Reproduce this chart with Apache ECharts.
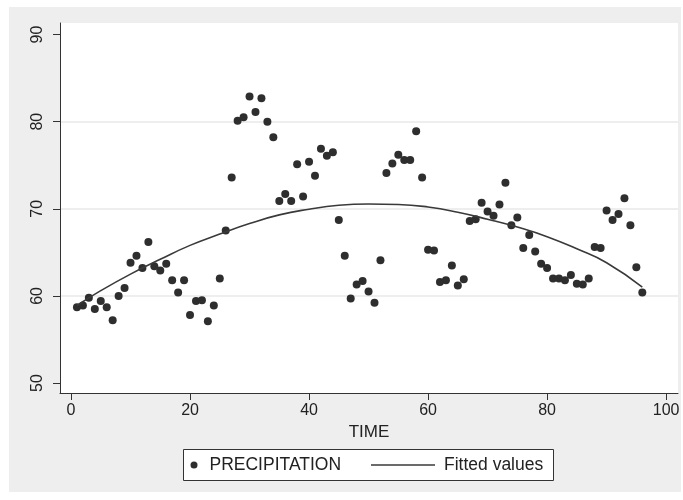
<!DOCTYPE html>
<html>
<head>
<meta charset="utf-8">
<script src="https://cdn.jsdelivr.net/npm/echarts@6/dist/echarts.min.js"></script>
<style>
html,body{margin:0;padding:0;background:#fff;}
#chart{width:683px;height:500px;}
</style>
</head>
<body>
<div id="chart"></div>
<script>
// Data
var time = [1,2,3,4,5,6,7,8,9,10,11,12,13,14,15,16,17,18,19,20,21,22,23,24,25,26,27,28,29,30,31,32,33,34,35,36,37,38,39,40,41,42,43,44,45,46,47,48,49,50,51,52,53,54,55,56,57,58,59,60,61,62,63,64,65,66,67,68,69,70,71,72,73,74,75,76,77,78,79,80,81,82,83,84,85,86,87,88,89,90,91,92,93,94,95,96];
var precipitation = [58.7,58.9,59.8,58.5,59.4,58.7,57.2,60.0,60.9,63.8,64.6,63.2,66.2,63.4,62.9,63.7,61.8,60.4,61.8,57.8,59.4,59.5,57.1,58.9,62.0,67.5,73.6,80.1,80.5,82.9,81.1,82.7,80.0,78.2,70.9,71.7,70.9,75.1,71.4,75.4,73.8,76.9,76.1,76.5,68.7,64.6,59.7,61.3,61.7,60.5,59.2,64.1,74.1,75.2,76.2,75.6,75.6,78.9,73.6,65.3,65.2,61.6,61.8,63.5,61.2,61.9,68.6,68.8,70.7,69.7,69.2,70.5,73.0,68.1,69.0,65.5,67.0,65.1,63.7,63.2,62.0,62.0,61.8,62.4,61.4,61.3,62.0,65.6,65.5,69.8,68.7,69.4,71.2,68.1,63.3,60.4];
var fitTime = [1,5,10,15,20,25,30,35,40,45,50,55,60,65,70,75,80,85,90,96];
var fitValues = [58.9,60.6,62.5,64.2,65.8,67.1,68.3,69.3,69.95,70.4,70.55,70.5,70.2,69.6,68.8,67.9,66.8,65.4,63.8,61.0];
var xTicks = [0,20,40,60,80,100];
var yTicks = [50,60,70,80,90];
var yGridLines = [60,70,80];

var scatterData = time.map(function(t,i){return [t, precipitation[i]];});
var fitData = fitTime.map(function(t,i){return [t, fitValues[i]];});

var FONT = 'Liberation Sans';
var chart = echarts.init(document.getElementById('chart'), null, {renderer:'canvas'});
chart.setOption({
  animation:false,
  backgroundColor:'#ffffff',
  textStyle:{fontFamily:FONT},
  graphic:[
    {type:'rect', z:-10, shape:{x:9,y:7,width:672,height:485}, style:{fill:'#eeeeee'}},
    {type:'rect', z:3, shape:{x:183.5,y:449.5,width:370,height:31}, style:{fill:'#ffffff', stroke:'#333333', lineWidth:1}}
  ],
  grid:{left:60, right:5, top:23, bottom:107, show:true, backgroundColor:'#ffffff', borderWidth:0},
  legend:[
    {data:[{name:'PRECIPITATION', icon:'circle'}], left:190.5, top:456, padding:0, itemWidth:7, itemHeight:7, selectedMode:false,
     textStyle:{fontSize:17.5, color:'#222', fontFamily:FONT, padding:[0,0,0,7]}},
    {data:[{name:'Fitted values', icon:'rect'}], left:371, top:456, padding:0, itemWidth:64, itemHeight:1.6, selectedMode:false,
     itemStyle:{color:'#3a3a3a'},
     textStyle:{fontSize:17.5, color:'#222', fontFamily:FONT, padding:[0,0,0,4]}}
  ],
  xAxis:{
    type:'value', min:-1.85, max:102,
    name:'TIME', nameLocation:'middle', nameGap:30,
    nameTextStyle:{fontSize:17, color:'#222', fontFamily:FONT},
    axisLine:{show:true, onZero:false, lineStyle:{color:'#333', width:1}},
    axisTick:{show:true, length:7, customValues:xTicks, lineStyle:{color:'#333'}},
    axisLabel:{customValues:xTicks, margin:10, fontSize:16, color:'#222', fontFamily:FONT},
    splitLine:{show:false}
  },
  yAxis:[{
    type:'value', min:48.85, max:91.33,
    axisLine:{show:true, onZero:false, lineStyle:{color:'#333', width:1}},
    axisTick:{show:true, length:7, customValues:yTicks, lineStyle:{color:'#333'}},
    axisLabel:{customValues:yTicks, rotate:90, margin:14, fontSize:16, color:'#222', fontFamily:FONT},
    splitLine:{show:false}
  },{
    type:'value', min:48.85, max:91.33, position:'left',
    axisLine:{show:false},
    axisTick:{show:false, customValues:yGridLines},
    axisLabel:{show:false, customValues:yGridLines},
    splitLine:{show:true, lineStyle:{color:'#e9e9e9', width:1.5}}
  }],
  series:[
    {name:'PRECIPITATION', type:'scatter', data:scatterData, symbol:'circle', symbolSize:8,
     itemStyle:{color:'#2e2e2e', opacity:1}},
    {name:'Fitted values', type:'line', data:fitData, symbol:'none', showSymbol:false, smooth:true,
     lineStyle:{color:'#3a3a3a', width:1.6}, itemStyle:{color:'#3a3a3a'}, z:3}
  ]
});
</script>
</body>
</html>
